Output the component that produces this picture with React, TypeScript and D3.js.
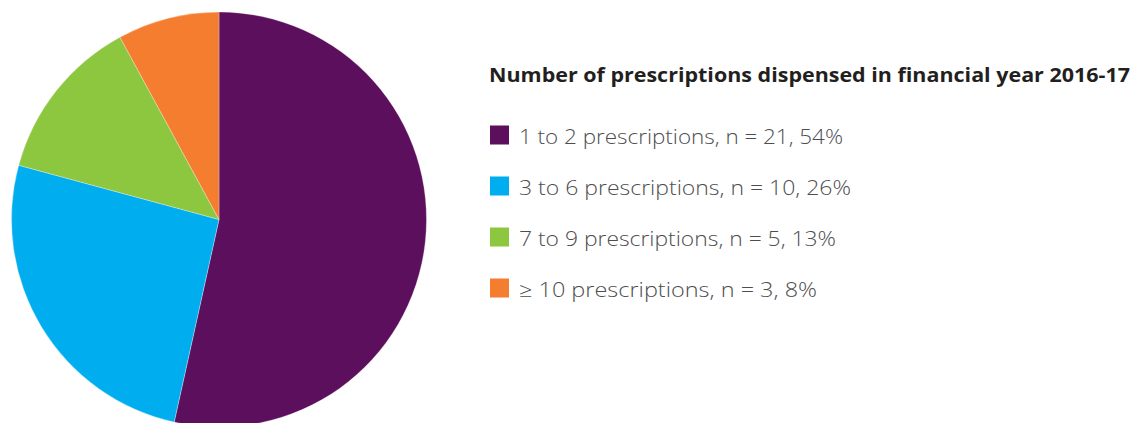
import React from "react";
import * as d3 from "d3";

const categories = ["1 to 2 prescriptions", "3 to 6 prescriptions", "7 to 9 prescriptions", "≥ 10 prescriptions"];
const counts = [21, 10, 5, 3];
const percents = [54, 26, 13, 8];
const colors = ["#5C0F5C", "#00AEEF", "#8DC63F", "#F47D2F"];
const title = "Number of prescriptions dispensed in financial year 2016-17";

export default function App() {
  const W = 1138, H = 423;
  const cx = 219, cy = 219.5, r = 207.5;
  const pie = d3.pie<number>().sort(null).value((d) => d);
  const arcs = pie(percents);
  const arc = d3.arc<d3.PieArcDatum<number>>().innerRadius(0).outerRadius(r);
  const legendY = d3.scaleLinear().domain([0, 1]).range([144, 195]);
  const labelWidths = [324, 332, 317, 298];
  return (
    <svg width={W} height={H} style={{ position: "absolute", left: 0, top: 0, display: "block" }}>
      <rect width={W} height={H} fill="#fff" />
      <g transform={`translate(${cx},${cy})`}>
        {arcs.map((a, i) => (
          <path key={i} d={arc(a) || ""} fill={colors[i]} stroke="#fff" strokeWidth={0.3} />
        ))}
      </g>
      <text x={489} y={82} fontFamily="'Open Sans', sans-serif" fontWeight={700} fontSize={19.5} fill="#231F20" textLength={641} lengthAdjust="spacingAndGlyphs">
        {title}
      </text>
      {categories.map((c, i) => (
        <g key={i}>
          <rect x={490} y={legendY(i) - 18.5} width={19} height={19} fill={colors[i]} />
          <text x={519} y={legendY(i)} fontFamily="'Open Sans', sans-serif" fontWeight={300} fontSize={20} fill="#4D4D4F" textLength={labelWidths[i]} lengthAdjust="spacingAndGlyphs">
            {`${c}, n = ${counts[i]}, ${percents[i]}%`}
          </text>
        </g>
      ))}
    </svg>
  );
}
